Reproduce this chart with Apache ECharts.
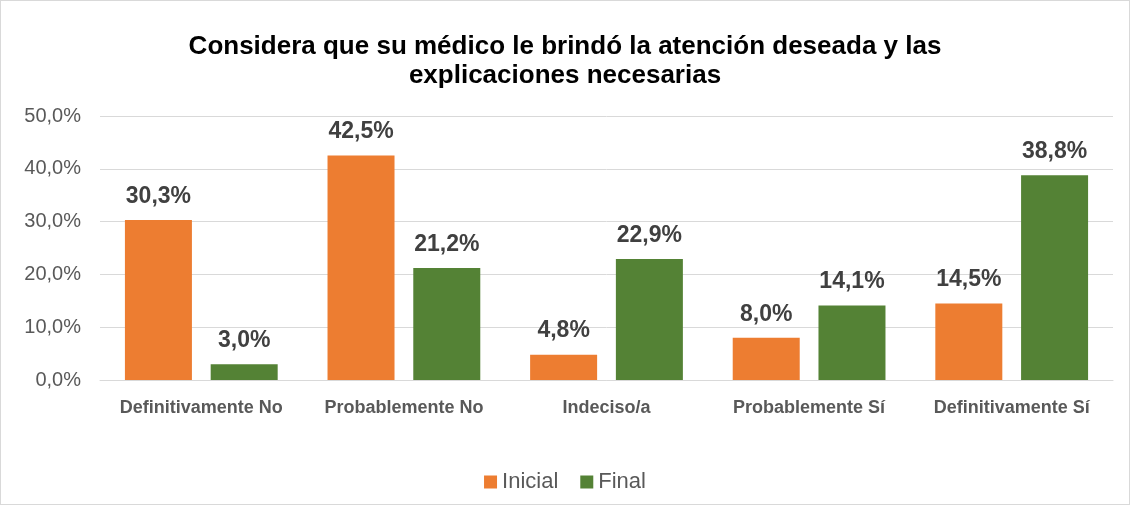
<!DOCTYPE html>
<html>
<head>
<meta charset="utf-8">
<script src="https://cdn.jsdelivr.net/npm/echarts@6/dist/echarts.min.js"></script>
<style>
  html, body { margin: 0; padding: 0; background: #fff; }
  #chart { width: 1128px; height: 503px; border: 1px solid #d9d9d9; }
</style>
</head>
<body>
<div id="chart"></div>
<script>
const categories = ['Definitivamente No', 'Probablemente No', 'Indeciso/a', 'Probablemente Sí', 'Definitivamente Sí'];
const inicial = [30.3, 42.5, 4.8, 8.0, 14.5];
const final = [3.0, 21.2, 22.9, 14.1, 38.8];
const yTicks = [0, 10, 20, 30, 40, 50];

const fmt = v => v.toFixed(1).replace('.', ',') + '%';
const font = 'Liberation Sans, Arial, sans-serif';

const chart = echarts.init(document.getElementById('chart'));
chart.setOption({
  animation: false,
  textStyle: { fontFamily: font },
  title: {
    text: 'Considera que su médico le brindó la atención deseada y las\nexplicaciones necesarias',
    left: 'center',
    top: 26,
    textStyle: { fontSize: 26, fontWeight: 'bold', color: '#000', lineHeight: 29, fontFamily: font }
  },
  legend: {
    bottom: 6,
    left: 'center',
    itemWidth: 13,
    itemHeight: 13,
    itemGap: 22,
    icon: 'rect',
    textStyle: { fontSize: 22, color: '#595959', fontFamily: font }
  },
  grid: { left: 99, right: 16, top: 115, bottom: 124 },
  xAxis: {
    type: 'category',
    data: categories,
    axisTick: { show: false },
    axisLine: { lineStyle: { color: '#d9d9d9' } },
    axisLabel: { interval: 0, fontSize: 18, fontWeight: 'bold', color: '#595959', margin: 19, fontFamily: font }
  },
  yAxis: {
    type: 'value',
    min: yTicks[0],
    max: yTicks[yTicks.length - 1],
    interval: 10,
    axisLabel: { fontSize: 20, color: '#595959', margin: 19, formatter: v => fmt(v), fontFamily: font },
    splitLine: { lineStyle: { color: '#d9d9d9' } }
  },
  series: [
    {
      name: 'Inicial', type: 'bar', data: inicial,
      barWidth: 67, barGap: '28%',
      itemStyle: { color: '#ed7d31' },
      label: { show: true, position: 'top', distance: 12, formatter: p => fmt(p.value), fontSize: 23, fontWeight: 'bold', color: '#404040', fontFamily: font }
    },
    {
      name: 'Final', type: 'bar', data: final,
      barWidth: 67, barGap: '28%',
      itemStyle: { color: '#548235' },
      label: { show: true, position: 'top', distance: 12, formatter: p => fmt(p.value), fontSize: 23, fontWeight: 'bold', color: '#404040', fontFamily: font }
    }
  ]
});
</script>
</body>
</html>
